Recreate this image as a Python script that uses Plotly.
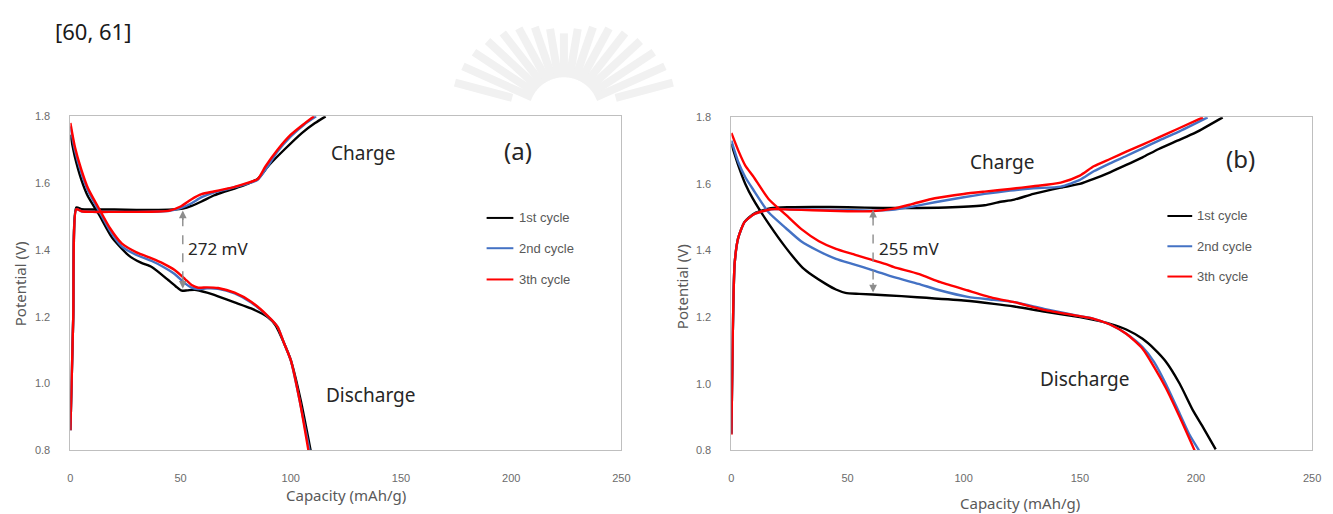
import math
import numpy as np
import plotly.graph_objects as go

W, H = 1333, 514

# ---------------- data: panel (a) ----------------
a_charge_c1_x = [0, 1.3, 2.7, 5, 10, 20, 30, 40, 47, 51, 55, 59.5, 65, 70, 74.5, 80, 85, 90, 97, 105, 111, 115.8]
a_charge_c1_y = [0.86, 1.2, 1.527, 1.522, 1.521, 1.521, 1.520, 1.520, 1.521, 1.524, 1.532, 1.545, 1.563, 1.575, 1.584, 1.597, 1.613, 1.653, 1.70, 1.75, 1.78, 1.80]
a_charge_c2_x = [0, 1.3, 2.7, 5, 10, 20, 30, 40, 45, 50, 55, 59.5, 65, 70, 74.5, 80, 85, 89, 94, 100, 106, 111.5]
a_charge_c2_y = [0.86, 1.2, 1.522, 1.516, 1.514, 1.514, 1.514, 1.515, 1.517, 1.525, 1.540, 1.558, 1.572, 1.580, 1.588, 1.598, 1.610, 1.645, 1.695, 1.740, 1.775, 1.80]
a_charge_c3_x = [0, 1.3, 2.7, 5, 10, 20, 30, 40, 45, 50, 55, 59.5, 65, 70, 74.5, 80, 85, 88.5, 94, 100, 105.5, 110.5]
a_charge_c3_y = [0.86, 1.2, 1.522, 1.516, 1.514, 1.514, 1.514, 1.515, 1.518, 1.530, 1.552, 1.567, 1.575, 1.582, 1.589, 1.600, 1.612, 1.650, 1.700, 1.745, 1.775, 1.80]

a_dis_c1_x = [0, 2, 5, 8, 12.9, 18.9, 26.4, 32, 36.9, 44.4, 48, 50.5, 53, 56.4, 62, 67, 74.5, 82, 89.5, 93, 97, 100, 104.5, 109]
a_dis_c1_y = [1.745, 1.68, 1.61, 1.56, 1.507, 1.437, 1.384, 1.362, 1.349, 1.310, 1.290, 1.278, 1.279, 1.281, 1.272, 1.261, 1.243, 1.225, 1.199, 1.175, 1.12, 1.07, 0.95, 0.80]
a_dis_c2_x = [0, 2, 5, 8, 12.9, 18, 23.4, 30, 36.9, 42, 47.3, 52, 55, 58, 62, 67, 74.5, 82, 89.5, 94, 97, 100, 104, 108.5]
a_dis_c2_y = [1.77, 1.70, 1.63, 1.577, 1.518, 1.457, 1.410, 1.385, 1.367, 1.350, 1.328, 1.300, 1.287, 1.283, 1.285, 1.284, 1.270, 1.243, 1.202, 1.170, 1.120, 1.070, 0.95, 0.80]
a_dis_c3_x = [0, 2, 5, 8, 12.9, 18, 23.4, 30, 36.9, 42, 47.3, 52, 55, 58, 62, 67, 74.5, 82, 89.5, 94, 97, 100, 104, 108]
a_dis_c3_y = [1.78, 1.71, 1.64, 1.585, 1.525, 1.465, 1.419, 1.393, 1.375, 1.360, 1.340, 1.313, 1.295, 1.287, 1.288, 1.286, 1.272, 1.245, 1.203, 1.170, 1.120, 1.070, 0.95, 0.80]

# ---------------- data: panel (b) ----------------
b_charge_c1_x = [0, 0.6, 1.4, 2.9, 5.7, 10, 17, 25, 35, 50, 65, 80, 95, 109, 115, 121.8, 130, 141.8, 150, 156, 163, 170, 177, 184, 192, 200, 211.5]
b_charge_c1_y = [0.85, 1.15, 1.36, 1.437, 1.486, 1.512, 1.527, 1.530, 1.531, 1.530, 1.528, 1.528, 1.530, 1.536, 1.545, 1.553, 1.570, 1.589, 1.600, 1.615, 1.635, 1.657, 1.680, 1.705, 1.730, 1.755, 1.80]
b_charge_c2_x = [0, 0.6, 1.4, 2.9, 5.7, 10, 17, 25, 35, 50, 60, 69.1, 78, 87.6, 100, 109, 120, 130, 141.8, 150, 156, 163, 170, 177, 184, 192, 205]
b_charge_c2_y = [0.85, 1.15, 1.36, 1.437, 1.486, 1.510, 1.524, 1.524, 1.523, 1.521, 1.520, 1.522, 1.532, 1.545, 1.560, 1.570, 1.580, 1.587, 1.592, 1.612, 1.638, 1.662, 1.684, 1.707, 1.730, 1.755, 1.80]
b_charge_c3_x = [0, 0.6, 1.4, 2.9, 5.7, 10, 17, 25, 35, 50, 60, 69.1, 78, 87.6, 100, 109, 120, 130, 141.8, 150, 156, 163, 170, 177, 184, 192, 203]
b_charge_c3_y = [0.847, 1.15, 1.36, 1.437, 1.486, 1.510, 1.524, 1.523, 1.521, 1.518, 1.518, 1.525, 1.540, 1.557, 1.570, 1.577, 1.585, 1.593, 1.604, 1.625, 1.653, 1.675, 1.697, 1.718, 1.740, 1.765, 1.80]

b_dis_c1_x = [0, 3, 6, 9.3, 16.4, 23.5, 30.6, 35, 40.6, 45, 49.1, 55, 66.2, 80, 100, 113, 121.8, 134.6, 150, 156, 163, 170, 177, 182, 187, 193, 198.7, 203, 208.5]
b_dis_c1_y = [1.72, 1.655, 1.60, 1.555, 1.477, 1.408, 1.349, 1.325, 1.300, 1.283, 1.273, 1.270, 1.266, 1.260, 1.250, 1.240, 1.232, 1.217, 1.200, 1.192, 1.180, 1.163, 1.135, 1.105, 1.067, 1.000, 0.920, 0.870, 0.803]
b_dis_c2_x = [0, 3, 6, 9.3, 16, 23.5, 30, 37.7, 45, 52, 61.3, 70, 80.5, 90, 101.8, 113, 121.8, 134.6, 150, 156, 163, 170, 177, 182, 187, 193, 197, 201.3]
b_dis_c2_y = [1.73, 1.665, 1.62, 1.584, 1.515, 1.467, 1.428, 1.398, 1.375, 1.360, 1.340, 1.320, 1.300, 1.280, 1.261, 1.252, 1.245, 1.225, 1.203, 1.195, 1.178, 1.150, 1.110, 1.065, 1.000, 0.910, 0.850, 0.80]
b_dis_c3_x = [0, 3, 6, 9.3, 16, 23.5, 30, 37.7, 45, 52, 66.2, 70, 80.5, 90, 101.8, 113, 121.8, 134.6, 150, 156, 163, 170, 177, 182, 187, 193, 199.4]
b_dis_c3_y = [1.753, 1.70, 1.655, 1.624, 1.555, 1.507, 1.465, 1.428, 1.405, 1.390, 1.360, 1.350, 1.330, 1.305, 1.280, 1.257, 1.245, 1.222, 1.203, 1.195, 1.178, 1.150, 1.105, 1.050, 0.988, 0.900, 0.80]

cycle_names = ["1st cycle", "2nd cycle", "3th cycle"]
cycle_colors = ["#000000", "#4472C4", "#FF0000"]

x_ticks = [0, 50, 100, 150, 200, 250]
y_ticks = [0.8, 1.0, 1.2, 1.4, 1.6, 1.8]

gap_a_label = "272 mV"
gap_b_label = "255 mV"
gap_a_at = 51
gap_b_at = 61

panels = {
    "a": {
        "charge": [(a_charge_c1_x, a_charge_c1_y), (a_charge_c2_x, a_charge_c2_y), (a_charge_c3_x, a_charge_c3_y)],
        "discharge": [(a_dis_c1_x, a_dis_c1_y), (a_dis_c2_x, a_dis_c2_y), (a_dis_c3_x, a_dis_c3_y)],
    },
    "b": {
        "charge": [(b_charge_c1_x, b_charge_c1_y), (b_charge_c2_x, b_charge_c2_y), (b_charge_c3_x, b_charge_c3_y)],
        "discharge": [(b_dis_c1_x, b_dis_c1_y), (b_dis_c2_x, b_dis_c2_y), (b_dis_c3_x, b_dis_c3_y)],
    },
}


def px(x):
    return x / W


def py(y):
    return 1 - y / H


fig = go.Figure()

axis_map = {"a": ("x", "y"), "b": ("x2", "y2")}
for key, (xa, ya) in axis_map.items():
    for i in range(3):
        for part in ("charge", "discharge"):
            xs, ys = panels[key][part][i]
            fig.add_trace(go.Scatter(
                x=xs, y=ys, mode="lines", xaxis=xa, yaxis=ya,
                line=dict(color=cycle_colors[i], width=2.4, shape="spline", smoothing=0.6),
                name=cycle_names[i], showlegend=False, hoverinfo="skip",
            ))

tick_font = dict(family="Liberation Sans, Arial, sans-serif", size=11, color="#6b6b6b")
box = dict(showline=True, linecolor="#bfbfbf", linewidth=1, mirror=True,
           showgrid=False, zeroline=False, ticks="", tickfont=tick_font)

fig.update_layout(
    width=W, height=H,
    margin=dict(l=0, r=0, t=0, b=0),
    paper_bgcolor="white", plot_bgcolor="white",
    xaxis=dict(domain=[px(68), px(624)], range=[0, 250], tickvals=x_ticks, anchor="y",
               ticklabelstandoff=17, **box),
    yaxis=dict(domain=[py(455), py(113)], range=[0.8, 1.8], tickvals=y_ticks, tickformat=".1f", anchor="x",
               ticklabelstandoff=17, **box),
    xaxis2=dict(domain=[px(735), px(1321)], range=[0, 250], tickvals=x_ticks, anchor="y2",
                ticklabelstandoff=17, **box),
    yaxis2=dict(domain=[py(455), py(114)], range=[0.8, 1.8], tickvals=y_ticks, tickformat=".1f", anchor="x2",
                ticklabelstandoff=17, **box),
)

text_font = "Noto Sans, Open Sans, sans-serif"
ann = []
shapes = []

# reference label
ann.append(dict(text="[60, 61]", x=px(50), y=py(26), xref="paper", yref="paper",
                xanchor="left", yanchor="middle", showarrow=False,
                font=dict(family=text_font, size=22, color="#1a1a1a")))

# axis titles
for cx, cy in [(346, 501), (1026, 509)]:
    ann.append(dict(text="Capacity (mAh/g)", x=px(cx), y=py(cy), xref="paper", yref="paper",
                    xanchor="center", yanchor="middle",
                    showarrow=False, font=dict(family=text_font, size=15, color="#595959")))
for cx, cy in [(18, 284), (685, 287)]:
    ann.append(dict(text="Potential (V)", x=px(cx), y=py(cy), xref="paper", yref="paper",
                    xanchor="center", yanchor="middle",
                    textangle=-90, showarrow=False, font=dict(family=text_font, size=15, color="#595959")))

# in-plot labels
label_specs = [
    ("x", "y", "Charge", 132.6, 1.689, 19),
    ("x", "y", "(a)", 203, 1.698, 24),
    ("x", "y", "Discharge", 136, 0.967, 19),
    ("x2", "y2", "Charge", 116.7, 1.665, 19),
    ("x2", "y2", "(b)", 219, 1.677, 24),
    ("x2", "y2", "Discharge", 152, 1.013, 19),
]
for xa, ya, t, xv, yv, fs in label_specs:
    ann.append(dict(text=t, x=xv, y=yv, xref=xa, yref=ya, showarrow=False,
                    xanchor="center", yanchor="middle",
                    font=dict(family=text_font, size=fs, color="#262626")))

# voltage gap markers between the 1st-cycle charge and discharge plateaus
for key, xa, ya, at, label in [("a", "x", "y", gap_a_at, gap_a_label), ("b", "x2", "y2", gap_b_at, gap_b_label)]:
    cx, cy = panels[key]["charge"][0]
    dx, dy = panels[key]["discharge"][0]
    top = float(np.interp(at, cx, cy)) - 0.006
    bot = float(np.interp(at, dx, dy)) + 0.006
    shapes.append(dict(type="line", xref=xa, yref=ya, x0=at, x1=at, y0=top - 0.02, y1=bot + 0.02,
                       line=dict(color="#8c8c8c", width=1.4, dash="dash")))
    for yv, off in [(top, 11), (bot, -11)]:
        ann.append(dict(text="", x=at, y=yv, xref=xa, yref=ya, ax=0, ay=off,
                        showarrow=True, arrowhead=2, arrowsize=1.1, arrowwidth=1.4,
                        arrowcolor="#8c8c8c", standoff=0))
    ann.append(dict(text=label, x=at + 1.5, y=1.405, xref=xa, yref=ya, xanchor="left", yanchor="middle",
                    showarrow=False, font=dict(family=text_font, size=17, color="#262626")))

# legends drawn in each panel
legend_rows = [
    ((488, 515, 519), [217, 248, 280]),
    ((1175, 1200, 1203), [215, 246, 277]),
]
for (lx0, lx1, tx), rows in legend_rows:
    for i, ry in enumerate(rows):
        shapes.append(dict(type="line", xref="paper", yref="paper",
                           x0=px(lx0), x1=px(lx1), y0=py(ry), y1=py(ry),
                           line=dict(color=cycle_colors[i], width=2)))
        ann.append(dict(text=cycle_names[i], x=px(tx), y=py(ry), xref="paper", yref="paper",
                        xanchor="left", yanchor="middle", showarrow=False,
                        font=dict(family="Liberation Sans, Arial, sans-serif", size=13, color="#595959")))

# faint fan emblem behind the header, cut off by a horizontal edge
fan_cx, fan_cy, fan_cut = 566, 108, 94
for k in range(17):
    ang = math.radians(15 + k * 150 / 16)
    r_out = 80 + 35 * abs(math.cos(ang))
    r_in = max(35, (fan_cy - fan_cut) / math.sin(ang))
    if r_in >= r_out - 8:
        continue
    x0 = fan_cx - r_in * math.cos(ang)
    y0 = fan_cy - r_in * math.sin(ang)
    x1 = fan_cx - r_out * math.cos(ang)
    y1 = fan_cy - r_out * math.sin(ang)
    shapes.append(dict(type="line", xref="paper", yref="paper", layer="below",
                       x0=px(x0), y0=py(y0), x1=px(x1), y1=py(y1),
                       line=dict(color="#f1f1f1", width=8)))

fig.update_layout(annotations=ann, shapes=shapes)
fig.write_html("out.html")
